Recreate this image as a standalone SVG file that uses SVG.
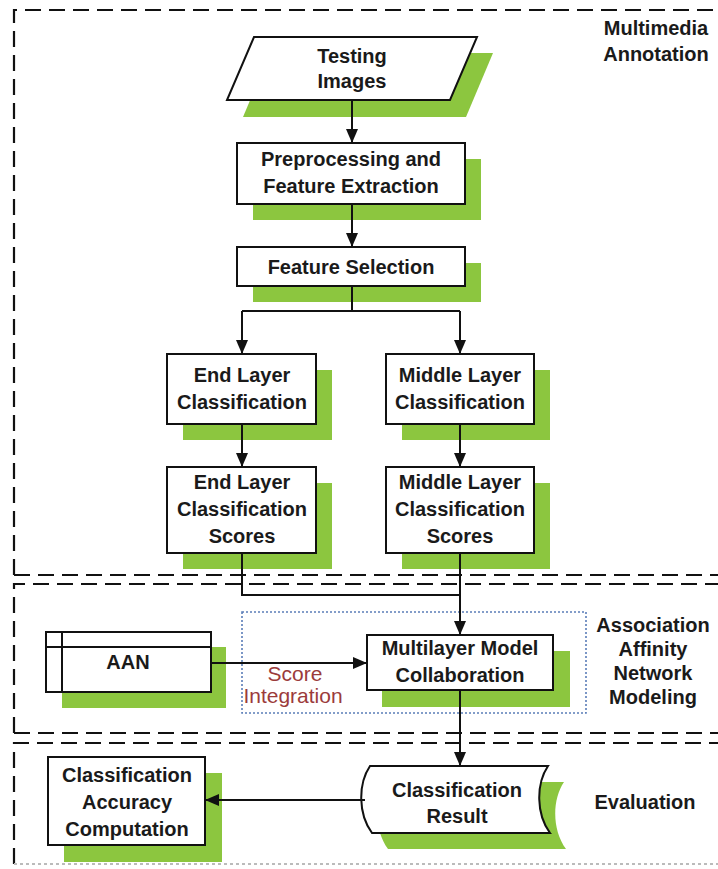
<svg xmlns="http://www.w3.org/2000/svg" width="718" height="869" viewBox="0 0 718 869">
<defs>
<marker id="ah" viewBox="0 0 14 12" refX="14" refY="6" markerWidth="14" markerHeight="12" markerUnits="userSpaceOnUse" orient="auto">
<path d="M0,0 L14,6 L0,12 Z" fill="#111"/>
</marker>
<style>
.box{fill:#fff;stroke:#111;stroke-width:2}
.sh{fill:#8cc63f;stroke:none}
.t{font-family:"Liberation Sans",Arial,sans-serif;font-weight:bold;font-size:20px;fill:#1a1a1a;text-anchor:middle}
.lbl{font-family:"Liberation Sans",Arial,sans-serif;font-weight:bold;font-size:20px;fill:#1a1a1a;text-anchor:middle}
.si{font-family:"Liberation Sans",Arial,sans-serif;font-size:21px;fill:#9b3b3b;text-anchor:middle}
.frame{fill:none;stroke:#111;stroke-width:2.2;stroke-dasharray:16 8}
.c{fill:none;stroke:#111;stroke-width:2}
.ca{fill:none;stroke:#111;stroke-width:2;marker-end:url(#ah)}
</style>
</defs>
<rect width="718" height="869" fill="#fff"/>

<g id="frames">
<path class="frame" d="M14,575 L14,10 L730,10 M14,575 L730,575"/>
<path class="frame" d="M14,733 L14,584 L730,584 M14,733 L730,733"/>
<path class="frame" d="M14,864 L14,743 L730,743"/>
<path d="M14,864 L718,864" fill="none" stroke="#bbb" stroke-width="2" stroke-dasharray="3 3"/>
<rect x="242" y="612" width="344" height="101" fill="none" stroke="#5b7db8" stroke-width="1.6" stroke-dasharray="2 2"/>
</g>

<g id="labels">
<text class="lbl" x="656" y="35">Multimedia</text>
<text class="lbl" x="656" y="61">Annotation</text>
<text class="lbl" x="653" y="632">Association</text>
<text class="lbl" x="653" y="656">Affinity</text>
<text class="lbl" x="653" y="680">Network</text>
<text class="lbl" x="653" y="704">Modeling</text>
<text class="lbl" x="645" y="809">Evaluation</text>
<text class="si" x="295" y="681">Score</text>
<text class="si" x="293" y="703">Integration</text>
</g>

<g id="testing-images">
<path class="sh" d="M270,53 L493,53 L466,117 L243,117 Z"/>
<path class="box" d="M254,37 L477,37 L450,100 L227,100 Z"/>
<text class="t" x="352" y="63">Testing</text>
<text class="t" x="352" y="88">Images</text>
</g>

<g id="preprocessing">
<rect class="sh" x="253" y="159" width="228" height="61"/>
<rect class="box" x="237" y="143" width="228" height="61"/>
<text class="t" x="351" y="166">Preprocessing and</text>
<text class="t" x="351" y="193">Feature Extraction</text>
</g>

<g id="feature-selection">
<rect class="sh" x="253" y="263" width="228" height="39"/>
<rect class="box" x="237" y="247" width="228" height="39"/>
<text class="t" x="351" y="274">Feature Selection</text>
</g>

<g id="end-layer-classification">
<rect class="sh" x="183" y="370" width="149" height="70"/>
<rect class="box" x="167" y="354" width="149" height="70"/>
<text class="t" x="242" y="382">End Layer</text>
<text class="t" x="242" y="409">Classification</text>
</g>

<g id="middle-layer-classification">
<rect class="sh" x="402" y="370" width="148" height="70"/>
<rect class="box" x="386" y="354" width="148" height="70"/>
<text class="t" x="460" y="382">Middle Layer</text>
<text class="t" x="460" y="409">Classification</text>
</g>

<g id="end-layer-scores">
<rect class="sh" x="183" y="483" width="149" height="86"/>
<rect class="box" x="167" y="467" width="149" height="86"/>
<text class="t" x="242" y="489">End Layer</text>
<text class="t" x="242" y="516">Classification</text>
<text class="t" x="242" y="543">Scores</text>
</g>

<g id="middle-layer-scores">
<rect class="sh" x="402" y="483" width="148" height="86"/>
<rect class="box" x="386" y="467" width="148" height="86"/>
<text class="t" x="460" y="489">Middle Layer</text>
<text class="t" x="460" y="516">Classification</text>
<text class="t" x="460" y="543">Scores</text>
</g>

<g id="aan">
<rect class="sh" x="62" y="647" width="164" height="61"/>
<rect class="box" x="46" y="632" width="165" height="60"/>
<path class="c" d="M62,632 L62,692 M46,647 L211,647"/>
<text class="t" x="128" y="669">AAN</text>
</g>

<g id="multilayer">
<rect class="sh" x="382" y="651" width="188" height="56"/>
<rect class="box" x="367" y="635" width="186" height="55"/>
<text class="t" x="460" y="655">Multilayer Model</text>
<text class="t" x="460" y="682">Collaboration</text>
</g>

<g id="classification-result">
<path class="sh" d="M386,782 L564,782 C552,800 552,830 566,849 L388,849 C374,830 374,800 386,782 Z"/>
<path class="box" d="M370,766 L548,766 C536,784 536,814 550,833 L372,833 C358,814 358,784 370,766 Z"/>
<text class="t" x="457" y="797">Classification</text>
<text class="t" x="457" y="823">Result</text>
</g>

<g id="accuracy">
<rect class="sh" x="64" y="773" width="158" height="89"/>
<rect class="box" x="48" y="757" width="157" height="88"/>
<text class="t" x="127" y="782">Classification</text>
<text class="t" x="127" y="809">Accuracy</text>
<text class="t" x="127" y="836">Computation</text>
</g>

<g id="connectors">
<path class="ca" d="M352,100 L352,143"/>
<path class="ca" d="M352,204 L352,247"/>
<path class="c" d="M352,286 L352,311 M242,311 L460,311"/>
<path class="ca" d="M242,311 L242,354"/>
<path class="ca" d="M460,311 L460,354"/>
<path class="ca" d="M242,424 L242,467"/>
<path class="ca" d="M460,424 L460,467"/>
<path class="c" d="M242,553 L242,595 L460,595"/>
<path class="ca" d="M460,553 L460,635"/>
<path class="ca" d="M211,663 L367,663"/>
<path class="ca" d="M460,690 L460,766"/>
<path class="ca" d="M365,800 L205,800"/>
</g>
</svg>
